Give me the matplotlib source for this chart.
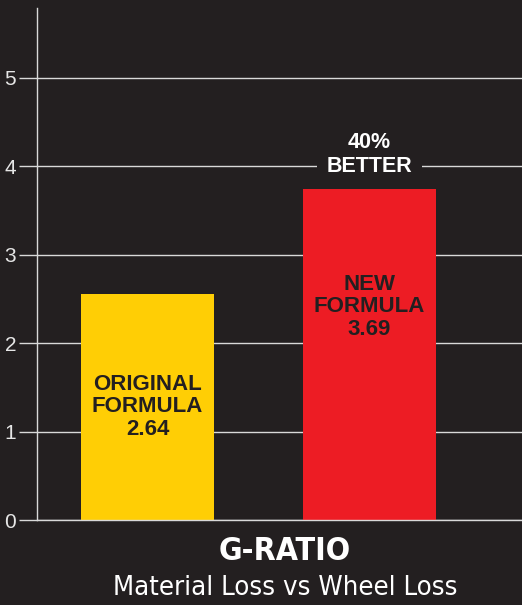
import numpy as np
from matplotlib import pyplot as plt

#-----------------------------------------------------------------------------------------

categories = ["ORIGINAL\nFORMULA", "NEW\nFORMULA"]
bar_heights = [2.56, 3.74]
value_labels = ["2.64", "3.69"]
bar_colors = ["#ffce05", "#ed1c24"]
yticks = [0, 1, 2, 3, 4, 5]
callout = ["40%", "BETTER"]

bg = "#231f20"

#-----------------------------------------------------------------------------------------

fig = plt.figure(figsize=(5.22, 6.05), dpi=100, facecolor=bg)
ax = fig.add_axes([37 / 522, 85 / 605, 485 / 522, 512 / 605], facecolor=bg)

x = np.arange(len(categories))
ax.bar(x, bar_heights, width=0.6, color=bar_colors, zorder=3)

for xi, cat, val, h in zip(x, categories, value_labels, [1.28, 2.41]):
    ax.text(xi, h, cat + "\n" + val, ha="center", va="center",
            fontsize=16, fontweight="bold", color=bg, linespacing=1.08,
            family="Liberation Sans", zorder=4)

# ===== callout over the new formula =====
ax.text(x[1], 4.0, callout[1], ha="center", va="center", fontsize=15.5,
        fontweight="bold", color="white", family="Liberation Sans", zorder=4,
        bbox=dict(facecolor=bg, edgecolor="none", pad=7))
ax.text(x[1], 4.27, callout[0], ha="center", va="center", fontsize=15.5,
        fontweight="bold", color="white", family="Liberation Sans", zorder=4)

# ===== axes =====
ax.set_xlim(-0.498, 1.687)
ax.set_ylim(0, 5.79)
ax.set_yticks(yticks)
ax.set_xticks([])
ax.grid(axis="y", color="#d9d9d9", linewidth=1.0, zorder=1)
ax.tick_params(axis="y", length=13, width=1.0, color="#d9d9d9", labelcolor="#e6e6e6",
               labelsize=15, pad=2)
for lbl in ax.get_yticklabels():
    lbl.set_family("Liberation Sans")
for side in ["top", "right", "bottom"]:
    ax.spines[side].set_visible(False)
ax.spines["left"].set_color("#d9d9d9")
ax.spines["left"].set_linewidth(1.0)
ax.axhline(0, color="#d9d9d9", linewidth=1.0, zorder=5, clip_on=False)

# ===== titles =====
fig.text(285 / 522, 1 - 551 / 605, "G-RATIO", ha="center", va="center",
         fontsize=23, fontweight="bold", fontstretch="condensed", color="white",
         family="DejaVu Sans")
fig.text(285 / 522, 1 - 588 / 605, "Material Loss vs Wheel Loss", ha="center",
         va="center", fontsize=19.7, fontstretch="condensed", color="white",
         family="DejaVu Sans")

fig.savefig("out.png", dpi=100, facecolor=bg)
